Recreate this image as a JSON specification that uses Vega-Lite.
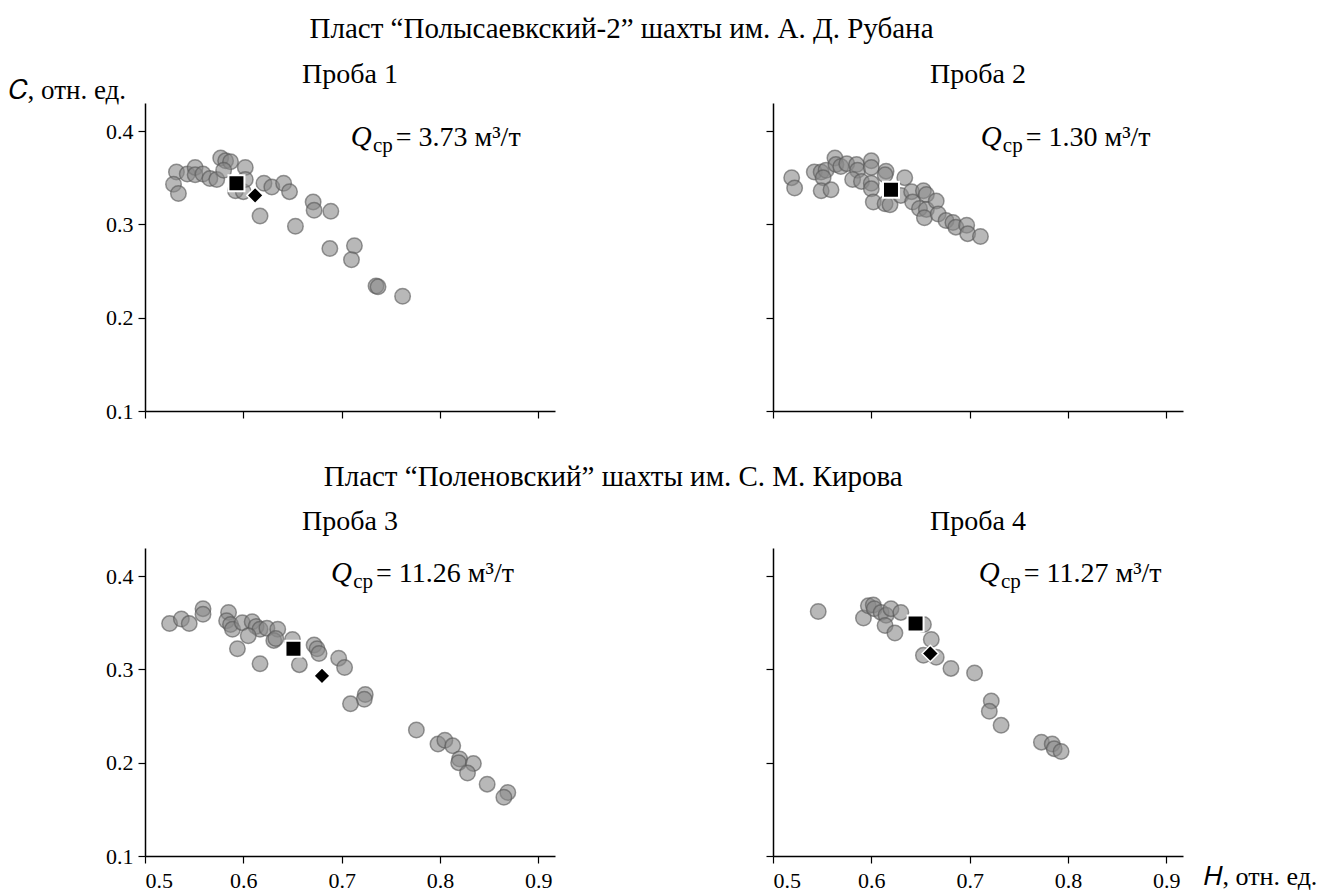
{
  "$schema": "https://vega.github.io/schema/vega-lite/v6.json",
  "padding": {"left": 8, "top": 15, "right": 0, "bottom": 0},
  "config": {
    "font": "Liberation Serif",
    "view": {"stroke": null},
    "axis": {"grid": false, "domainColor": "black", "domainWidth": 1.5, "tickColor": "black", "tickWidth": 1.2, "tickSize": 7, "labelFontSize": 22, "labelColor": "black", "labelFont": "Liberation Serif", "titleFont": "Liberation Serif", "titleFontSize": 27, "titleFontWeight": "normal", "titleColor": "black"},
    "axisX": {"labelPadding": 7},
    "axisY": {"labelPadding": 5},
    "title": {"font": "Liberation Serif", "fontSize": 28, "fontWeight": "normal", "color": "black"}
  },
  "datasets": {
    "points": [
      {"sample": 1, "kind": "obs", "H": 0.532, "C": 0.356},
      {"sample": 1, "kind": "obs", "H": 0.529, "C": 0.343},
      {"sample": 1, "kind": "obs", "H": 0.534, "C": 0.333},
      {"sample": 1, "kind": "obs", "H": 0.543, "C": 0.354},
      {"sample": 1, "kind": "obs", "H": 0.551, "C": 0.361},
      {"sample": 1, "kind": "obs", "H": 0.551, "C": 0.353},
      {"sample": 1, "kind": "obs", "H": 0.559, "C": 0.354},
      {"sample": 1, "kind": "obs", "H": 0.566, "C": 0.349},
      {"sample": 1, "kind": "obs", "H": 0.573, "C": 0.348},
      {"sample": 1, "kind": "obs", "H": 0.577, "C": 0.371},
      {"sample": 1, "kind": "obs", "H": 0.582, "C": 0.368},
      {"sample": 1, "kind": "obs", "H": 0.587, "C": 0.367},
      {"sample": 1, "kind": "obs", "H": 0.580, "C": 0.358},
      {"sample": 1, "kind": "obs", "H": 0.602, "C": 0.361},
      {"sample": 1, "kind": "obs", "H": 0.592, "C": 0.336},
      {"sample": 1, "kind": "obs", "H": 0.600, "C": 0.335},
      {"sample": 1, "kind": "obs", "H": 0.602, "C": 0.348},
      {"sample": 1, "kind": "obs", "H": 0.621, "C": 0.344},
      {"sample": 1, "kind": "obs", "H": 0.629, "C": 0.340},
      {"sample": 1, "kind": "obs", "H": 0.641, "C": 0.344},
      {"sample": 1, "kind": "obs", "H": 0.647, "C": 0.335},
      {"sample": 1, "kind": "obs", "H": 0.617, "C": 0.309},
      {"sample": 1, "kind": "obs", "H": 0.653, "C": 0.298},
      {"sample": 1, "kind": "obs", "H": 0.671, "C": 0.324},
      {"sample": 1, "kind": "obs", "H": 0.672, "C": 0.315},
      {"sample": 1, "kind": "obs", "H": 0.689, "C": 0.314},
      {"sample": 1, "kind": "obs", "H": 0.688, "C": 0.274},
      {"sample": 1, "kind": "obs", "H": 0.713, "C": 0.277},
      {"sample": 1, "kind": "obs", "H": 0.710, "C": 0.262},
      {"sample": 1, "kind": "obs", "H": 0.735, "C": 0.234},
      {"sample": 1, "kind": "obs", "H": 0.737, "C": 0.233},
      {"sample": 1, "kind": "obs", "H": 0.762, "C": 0.223},
      {"sample": 1, "kind": "mean", "H": 0.593, "C": 0.344},
      {"sample": 1, "kind": "median", "H": 0.612, "C": 0.331},
      {"sample": 1, "kind": "note", "H": 0.755, "C": 0.384, "label": "= 3.73 м³/т"},

      {"sample": 2, "kind": "obs", "H": 0.519, "C": 0.350},
      {"sample": 2, "kind": "obs", "H": 0.522, "C": 0.339},
      {"sample": 2, "kind": "obs", "H": 0.542, "C": 0.356},
      {"sample": 2, "kind": "obs", "H": 0.549, "C": 0.356},
      {"sample": 2, "kind": "obs", "H": 0.554, "C": 0.358},
      {"sample": 2, "kind": "obs", "H": 0.551, "C": 0.350},
      {"sample": 2, "kind": "obs", "H": 0.549, "C": 0.336},
      {"sample": 2, "kind": "obs", "H": 0.559, "C": 0.337},
      {"sample": 2, "kind": "obs", "H": 0.563, "C": 0.371},
      {"sample": 2, "kind": "obs", "H": 0.564, "C": 0.364},
      {"sample": 2, "kind": "obs", "H": 0.569, "C": 0.362},
      {"sample": 2, "kind": "obs", "H": 0.575, "C": 0.365},
      {"sample": 2, "kind": "obs", "H": 0.585, "C": 0.364},
      {"sample": 2, "kind": "obs", "H": 0.586, "C": 0.358},
      {"sample": 2, "kind": "obs", "H": 0.581, "C": 0.348},
      {"sample": 2, "kind": "obs", "H": 0.590, "C": 0.346},
      {"sample": 2, "kind": "obs", "H": 0.600, "C": 0.368},
      {"sample": 2, "kind": "obs", "H": 0.600, "C": 0.361},
      {"sample": 2, "kind": "obs", "H": 0.615, "C": 0.357},
      {"sample": 2, "kind": "obs", "H": 0.614, "C": 0.353},
      {"sample": 2, "kind": "obs", "H": 0.600, "C": 0.344},
      {"sample": 2, "kind": "obs", "H": 0.600, "C": 0.338},
      {"sample": 2, "kind": "obs", "H": 0.602, "C": 0.324},
      {"sample": 2, "kind": "obs", "H": 0.614, "C": 0.322},
      {"sample": 2, "kind": "obs", "H": 0.619, "C": 0.321},
      {"sample": 2, "kind": "obs", "H": 0.634, "C": 0.350},
      {"sample": 2, "kind": "obs", "H": 0.630, "C": 0.331},
      {"sample": 2, "kind": "obs", "H": 0.641, "C": 0.335},
      {"sample": 2, "kind": "obs", "H": 0.642, "C": 0.324},
      {"sample": 2, "kind": "obs", "H": 0.653, "C": 0.336},
      {"sample": 2, "kind": "obs", "H": 0.656, "C": 0.332},
      {"sample": 2, "kind": "obs", "H": 0.649, "C": 0.317},
      {"sample": 2, "kind": "obs", "H": 0.656, "C": 0.316},
      {"sample": 2, "kind": "obs", "H": 0.654, "C": 0.307},
      {"sample": 2, "kind": "obs", "H": 0.666, "C": 0.325},
      {"sample": 2, "kind": "obs", "H": 0.668, "C": 0.311},
      {"sample": 2, "kind": "obs", "H": 0.676, "C": 0.304},
      {"sample": 2, "kind": "obs", "H": 0.683, "C": 0.302},
      {"sample": 2, "kind": "obs", "H": 0.686, "C": 0.297},
      {"sample": 2, "kind": "obs", "H": 0.697, "C": 0.299},
      {"sample": 2, "kind": "obs", "H": 0.698, "C": 0.290},
      {"sample": 2, "kind": "obs", "H": 0.711, "C": 0.287},
      {"sample": 2, "kind": "mean", "H": 0.620, "C": 0.337},
      {"sample": 2, "kind": "note", "H": 0.757, "C": 0.384, "label": "= 1.30 м³/т"},

      {"sample": 3, "kind": "obs", "H": 0.525, "C": 0.349},
      {"sample": 3, "kind": "obs", "H": 0.537, "C": 0.354},
      {"sample": 3, "kind": "obs", "H": 0.545, "C": 0.349},
      {"sample": 3, "kind": "obs", "H": 0.559, "C": 0.365},
      {"sample": 3, "kind": "obs", "H": 0.559, "C": 0.359},
      {"sample": 3, "kind": "obs", "H": 0.585, "C": 0.361},
      {"sample": 3, "kind": "obs", "H": 0.583, "C": 0.352},
      {"sample": 3, "kind": "obs", "H": 0.587, "C": 0.348},
      {"sample": 3, "kind": "obs", "H": 0.589, "C": 0.343},
      {"sample": 3, "kind": "obs", "H": 0.599, "C": 0.350},
      {"sample": 3, "kind": "obs", "H": 0.609, "C": 0.351},
      {"sample": 3, "kind": "obs", "H": 0.613, "C": 0.346},
      {"sample": 3, "kind": "obs", "H": 0.617, "C": 0.343},
      {"sample": 3, "kind": "obs", "H": 0.624, "C": 0.344},
      {"sample": 3, "kind": "obs", "H": 0.635, "C": 0.343},
      {"sample": 3, "kind": "obs", "H": 0.605, "C": 0.336},
      {"sample": 3, "kind": "obs", "H": 0.594, "C": 0.322},
      {"sample": 3, "kind": "obs", "H": 0.617, "C": 0.306},
      {"sample": 3, "kind": "obs", "H": 0.631, "C": 0.331},
      {"sample": 3, "kind": "obs", "H": 0.633, "C": 0.333},
      {"sample": 3, "kind": "obs", "H": 0.650, "C": 0.332},
      {"sample": 3, "kind": "obs", "H": 0.657, "C": 0.305},
      {"sample": 3, "kind": "obs", "H": 0.672, "C": 0.326},
      {"sample": 3, "kind": "obs", "H": 0.675, "C": 0.322},
      {"sample": 3, "kind": "obs", "H": 0.677, "C": 0.317},
      {"sample": 3, "kind": "obs", "H": 0.697, "C": 0.312},
      {"sample": 3, "kind": "obs", "H": 0.703, "C": 0.302},
      {"sample": 3, "kind": "obs", "H": 0.724, "C": 0.273},
      {"sample": 3, "kind": "obs", "H": 0.723, "C": 0.268},
      {"sample": 3, "kind": "obs", "H": 0.709, "C": 0.263},
      {"sample": 3, "kind": "obs", "H": 0.776, "C": 0.235},
      {"sample": 3, "kind": "obs", "H": 0.798, "C": 0.220},
      {"sample": 3, "kind": "obs", "H": 0.805, "C": 0.224},
      {"sample": 3, "kind": "obs", "H": 0.813, "C": 0.218},
      {"sample": 3, "kind": "obs", "H": 0.820, "C": 0.204},
      {"sample": 3, "kind": "obs", "H": 0.819, "C": 0.200},
      {"sample": 3, "kind": "obs", "H": 0.834, "C": 0.199},
      {"sample": 3, "kind": "obs", "H": 0.828, "C": 0.189},
      {"sample": 3, "kind": "obs", "H": 0.848, "C": 0.177},
      {"sample": 3, "kind": "obs", "H": 0.869, "C": 0.168},
      {"sample": 3, "kind": "obs", "H": 0.865, "C": 0.163},
      {"sample": 3, "kind": "mean", "H": 0.651, "C": 0.322},
      {"sample": 3, "kind": "median", "H": 0.680, "C": 0.293},
      {"sample": 3, "kind": "note", "H": 0.735, "C": 0.394, "label": "= 11.26 м³/т"},

      {"sample": 4, "kind": "obs", "H": 0.546, "C": 0.362},
      {"sample": 4, "kind": "obs", "H": 0.592, "C": 0.355},
      {"sample": 4, "kind": "obs", "H": 0.597, "C": 0.368},
      {"sample": 4, "kind": "obs", "H": 0.602, "C": 0.369},
      {"sample": 4, "kind": "obs", "H": 0.603, "C": 0.365},
      {"sample": 4, "kind": "obs", "H": 0.610, "C": 0.361},
      {"sample": 4, "kind": "obs", "H": 0.615, "C": 0.358},
      {"sample": 4, "kind": "obs", "H": 0.620, "C": 0.365},
      {"sample": 4, "kind": "obs", "H": 0.630, "C": 0.361},
      {"sample": 4, "kind": "obs", "H": 0.614, "C": 0.347},
      {"sample": 4, "kind": "obs", "H": 0.624, "C": 0.339},
      {"sample": 4, "kind": "obs", "H": 0.653, "C": 0.348},
      {"sample": 4, "kind": "obs", "H": 0.661, "C": 0.332},
      {"sample": 4, "kind": "obs", "H": 0.653, "C": 0.315},
      {"sample": 4, "kind": "obs", "H": 0.666, "C": 0.313},
      {"sample": 4, "kind": "obs", "H": 0.681, "C": 0.301},
      {"sample": 4, "kind": "obs", "H": 0.705, "C": 0.296},
      {"sample": 4, "kind": "obs", "H": 0.722, "C": 0.266},
      {"sample": 4, "kind": "obs", "H": 0.720, "C": 0.255},
      {"sample": 4, "kind": "obs", "H": 0.732, "C": 0.240},
      {"sample": 4, "kind": "obs", "H": 0.773, "C": 0.222},
      {"sample": 4, "kind": "obs", "H": 0.784, "C": 0.220},
      {"sample": 4, "kind": "obs", "H": 0.786, "C": 0.215},
      {"sample": 4, "kind": "obs", "H": 0.793, "C": 0.212},
      {"sample": 4, "kind": "mean", "H": 0.645, "C": 0.349},
      {"sample": 4, "kind": "median", "H": 0.660, "C": 0.317},
      {"sample": 4, "kind": "note", "H": 0.755, "C": 0.394, "label": "= 11.27 м³/т"}
    ]
  },
  "spacing": 41,
  "vconcat": [
    {
      "title": {"text": "Пласт “Полысаевкский-2” шахты им. А. Д. Рубана", "anchor": "middle", "baseline": "alphabetic", "offset": -6, "fontSize": 29, "dx": 26},
      "spacing": 210,
      "hconcat": [
        {
          "title": {"text": "Проба 1", "frame": "group", "anchor": "middle", "baseline": "alphabetic", "offset": -35},
          "width": 410, "height": 308,
          "data": {"name": "points"},
          "encoding": {
            "x": {"field": "H", "type": "quantitative", "scale": {"domain": [0.5, 0.917], "nice": false, "zero": false}, "axis": {"values": [0.5, 0.6, 0.7, 0.8, 0.9], "labels": false, "title": null}},
            "y": {"field": "C", "type": "quantitative", "scale": {"domain": [0.1, 0.43], "nice": false, "zero": false}, "axis": {"values": [0.1, 0.2, 0.3, 0.4], "format": ".1f", "title": "𝐶, отн. ед.", "titleAngle": 0, "titleAlign": "left", "titleBaseline": "alphabetic", "titleX": -137, "titleY": -5}}
          },
          "layer": [
            {"transform": [{"filter": "datum.sample == 1 && datum.kind == 'obs'"}], "mark": {"type": "point", "shape": "circle", "filled": true, "size": 240, "fill": "#888888", "fillOpacity": 0.6, "stroke": "#555555", "strokeOpacity": 0.6, "strokeWidth": 1.5}},
            {"transform": [{"filter": "datum.sample == 1 && datum.kind == 'mean'"}], "mark": {"type": "point", "shape": "square", "filled": true, "size": 256, "fill": "black", "fillOpacity": 1, "opacity": 1, "stroke": "white", "strokeWidth": 2}},
            {"transform": [{"filter": "datum.sample == 1 && datum.kind == 'median'"}], "mark": {"type": "point", "shape": "diamond", "filled": true, "size": 270, "fill": "black", "fillOpacity": 1, "opacity": 1, "stroke": "white", "strokeWidth": 1.5}},
            {"transform": [{"filter": "datum.sample == 1 && datum.kind == 'note'"}], "mark": {"type": "text", "text": "Q", "fontStyle": "italic", "fontSize": 29, "align": "right", "baseline": "alphabetic", "dx": -24, "color": "black"}},
            {"transform": [{"filter": "datum.sample == 1 && datum.kind == 'note'"}], "mark": {"type": "text", "text": "ср", "fontSize": 21, "align": "right", "baseline": "alphabetic", "dx": -3, "dy": 6, "color": "black"}},
            {"transform": [{"filter": "datum.sample == 1 && datum.kind == 'note'"}], "mark": {"type": "text", "fontSize": 28, "align": "left", "baseline": "alphabetic", "color": "black"}, "encoding": {"text": {"field": "label"}}}
          ]
        },
        {
          "title": {"text": "Проба 2", "frame": "group", "anchor": "middle", "baseline": "alphabetic", "offset": -8},
          "width": 410, "height": 308,
          "data": {"name": "points"},
          "encoding": {
            "x": {"field": "H", "type": "quantitative", "scale": {"domain": [0.5, 0.917], "nice": false, "zero": false}, "axis": {"values": [0.5, 0.6, 0.7, 0.8, 0.9], "labels": false, "title": null}},
            "y": {"field": "C", "type": "quantitative", "scale": {"domain": [0.1, 0.43], "nice": false, "zero": false}, "axis": {"values": [0.1, 0.2, 0.3, 0.4], "labels": false, "title": null}}
          },
          "layer": [
            {"transform": [{"filter": "datum.sample == 2 && datum.kind == 'obs'"}], "mark": {"type": "point", "shape": "circle", "filled": true, "size": 240, "fill": "#888888", "fillOpacity": 0.6, "stroke": "#555555", "strokeOpacity": 0.6, "strokeWidth": 1.5}},
            {"transform": [{"filter": "datum.sample == 2 && datum.kind == 'mean'"}], "mark": {"type": "point", "shape": "square", "filled": true, "size": 256, "fill": "black", "fillOpacity": 1, "opacity": 1, "stroke": "white", "strokeWidth": 2}},
            {"transform": [{"filter": "datum.sample == 2 && datum.kind == 'note'"}], "mark": {"type": "text", "text": "Q", "fontStyle": "italic", "fontSize": 29, "align": "right", "baseline": "alphabetic", "dx": -24, "color": "black"}},
            {"transform": [{"filter": "datum.sample == 2 && datum.kind == 'note'"}], "mark": {"type": "text", "text": "ср", "fontSize": 21, "align": "right", "baseline": "alphabetic", "dx": -3, "dy": 6, "color": "black"}},
            {"transform": [{"filter": "datum.sample == 2 && datum.kind == 'note'"}], "mark": {"type": "text", "fontSize": 28, "align": "left", "baseline": "alphabetic", "color": "black"}, "encoding": {"text": {"field": "label"}}}
          ]
        }
      ]
    },
    {
      "title": {"text": "Пласт “Поленовский” шахты им. С. М. Кирова", "anchor": "middle", "baseline": "alphabetic", "offset": -7, "fontSize": 29, "dx": -98},
      "spacing": 210,
      "hconcat": [
        {
          "title": {"text": "Проба 3", "frame": "group", "anchor": "middle", "baseline": "alphabetic", "offset": -10},
          "width": 410, "height": 308,
          "data": {"name": "points"},
          "encoding": {
            "x": {"field": "H", "type": "quantitative", "scale": {"domain": [0.5, 0.917], "nice": false, "zero": false}, "axis": {"values": [0.5, 0.6, 0.7, 0.8, 0.9], "format": ".1f", "title": null}},
            "y": {"field": "C", "type": "quantitative", "scale": {"domain": [0.1, 0.43], "nice": false, "zero": false}, "axis": {"values": [0.1, 0.2, 0.3, 0.4], "format": ".1f", "title": null}}
          },
          "layer": [
            {"transform": [{"filter": "datum.sample == 3 && datum.kind == 'obs'"}], "mark": {"type": "point", "shape": "circle", "filled": true, "size": 240, "fill": "#888888", "fillOpacity": 0.6, "stroke": "#555555", "strokeOpacity": 0.6, "strokeWidth": 1.5}},
            {"transform": [{"filter": "datum.sample == 3 && datum.kind == 'mean'"}], "mark": {"type": "point", "shape": "square", "filled": true, "size": 256, "fill": "black", "fillOpacity": 1, "opacity": 1, "stroke": "white", "strokeWidth": 2}},
            {"transform": [{"filter": "datum.sample == 3 && datum.kind == 'median'"}], "mark": {"type": "point", "shape": "diamond", "filled": true, "size": 270, "fill": "black", "fillOpacity": 1, "opacity": 1, "stroke": "white", "strokeWidth": 1.5}},
            {"transform": [{"filter": "datum.sample == 3 && datum.kind == 'note'"}], "mark": {"type": "text", "text": "Q", "fontStyle": "italic", "fontSize": 29, "align": "right", "baseline": "alphabetic", "dx": -24, "color": "black"}},
            {"transform": [{"filter": "datum.sample == 3 && datum.kind == 'note'"}], "mark": {"type": "text", "text": "ср", "fontSize": 21, "align": "right", "baseline": "alphabetic", "dx": -3, "dy": 6, "color": "black"}},
            {"transform": [{"filter": "datum.sample == 3 && datum.kind == 'note'"}], "mark": {"type": "text", "fontSize": 28, "align": "left", "baseline": "alphabetic", "color": "black"}, "encoding": {"text": {"field": "label"}}}
          ]
        },
        {
          "title": {"text": "Проба 4", "frame": "group", "anchor": "middle", "baseline": "alphabetic", "offset": -10},
          "width": 410, "height": 308,
          "data": {"name": "points"},
          "encoding": {
            "x": {"field": "H", "type": "quantitative", "scale": {"domain": [0.5, 0.917], "nice": false, "zero": false}, "axis": {"values": [0.5, 0.6, 0.7, 0.8, 0.9], "format": ".1f", "title": "𝐻, отн. ед.", "titleAngle": 0, "titleAlign": "left", "titleBaseline": "alphabetic", "titleX": 430, "titleY": 28, "titleFontSize": 26}},
            "y": {"field": "C", "type": "quantitative", "scale": {"domain": [0.1, 0.43], "nice": false, "zero": false}, "axis": {"values": [0.1, 0.2, 0.3, 0.4], "labels": false, "title": null}}
          },
          "layer": [
            {"transform": [{"filter": "datum.sample == 4 && datum.kind == 'obs'"}], "mark": {"type": "point", "shape": "circle", "filled": true, "size": 240, "fill": "#888888", "fillOpacity": 0.6, "stroke": "#555555", "strokeOpacity": 0.6, "strokeWidth": 1.5}},
            {"transform": [{"filter": "datum.sample == 4 && datum.kind == 'mean'"}], "mark": {"type": "point", "shape": "square", "filled": true, "size": 256, "fill": "black", "fillOpacity": 1, "opacity": 1, "stroke": "white", "strokeWidth": 2}},
            {"transform": [{"filter": "datum.sample == 4 && datum.kind == 'median'"}], "mark": {"type": "point", "shape": "diamond", "filled": true, "size": 270, "fill": "black", "fillOpacity": 1, "opacity": 1, "stroke": "white", "strokeWidth": 1.5}},
            {"transform": [{"filter": "datum.sample == 4 && datum.kind == 'note'"}], "mark": {"type": "text", "text": "Q", "fontStyle": "italic", "fontSize": 29, "align": "right", "baseline": "alphabetic", "dx": -24, "color": "black"}},
            {"transform": [{"filter": "datum.sample == 4 && datum.kind == 'note'"}], "mark": {"type": "text", "text": "ср", "fontSize": 21, "align": "right", "baseline": "alphabetic", "dx": -3, "dy": 6, "color": "black"}},
            {"transform": [{"filter": "datum.sample == 4 && datum.kind == 'note'"}], "mark": {"type": "text", "fontSize": 28, "align": "left", "baseline": "alphabetic", "color": "black"}, "encoding": {"text": {"field": "label"}}}
          ]
        }
      ]
    }
  ]
}
